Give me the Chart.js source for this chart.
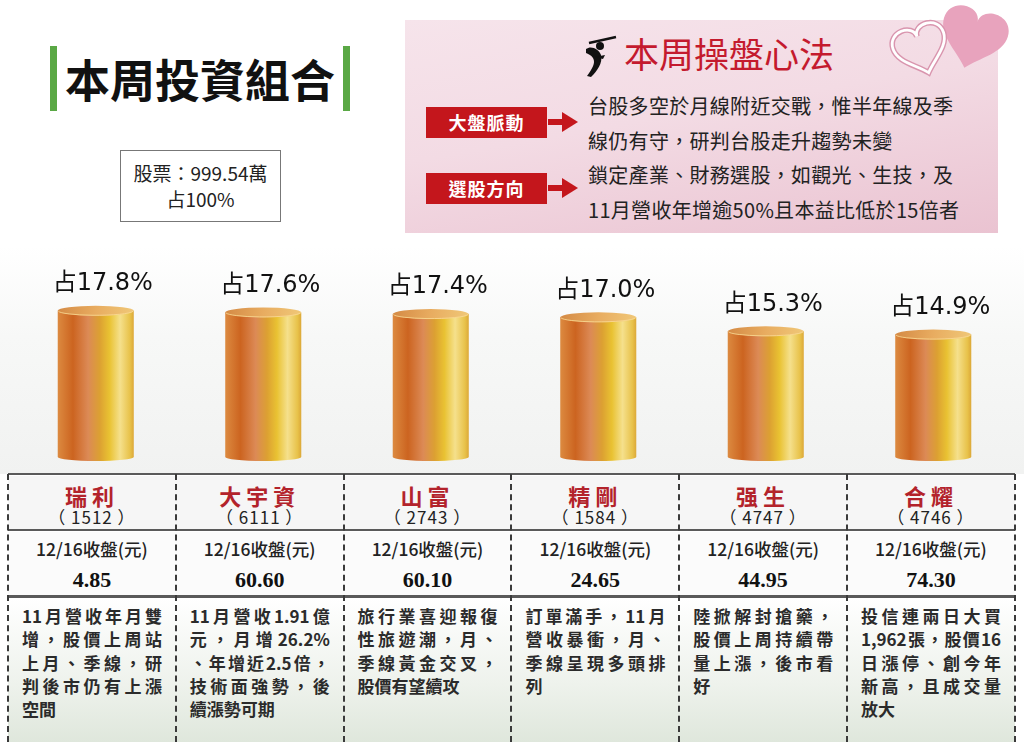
<!DOCTYPE html>
<html>
<head>
<meta charset="utf-8">
<script src="https://cdn.jsdelivr.net/npm/chart.js@4.4.1/dist/chart.umd.min.js"></script>
<style>
body{margin:0;width:1024px;height:748px;background:#fff;position:relative;overflow:hidden;font-family:"Noto Sans CJK TC","Noto Sans",sans-serif;color:#1a1a1a;}
.abs{position:absolute;}
#title{left:65px;top:52px;font-size:45px;font-weight:bold;line-height:54px;color:#111;letter-spacing:0;}
.gbar{width:7px;height:65px;top:46px;background:#5aa845;}
#total{left:120px;top:150px;width:159px;border:1px solid #777;text-align:center;font-size:19px;line-height:26px;padding-top:9px;box-sizing:content-box;height:61px;color:#222;}
#panel{left:405px;top:20px;width:593px;height:213px;background:linear-gradient(170deg,#f6e4eb 0%,#f3dbe4 45%,#eac3d1 100%);}
#mtitle{left:624px;top:31px;font-size:35px;line-height:44px;color:#c41a2e;}
.rbox{left:426px;width:121px;height:31px;background:#c4161c;color:#fff;font-weight:bold;font-size:18px;line-height:31px;text-align:center;letter-spacing:1px;}
.arrow{left:548px;width:30px;height:20px;}
#mtext{left:588px;top:89px;font-size:20px;line-height:34.5px;color:#222;white-space:nowrap;letter-spacing:0.3px;}
#chartbg{left:0;top:246px;width:1024px;height:228px;background:linear-gradient(180deg,#ffffff 0%,#f7f8f7 40%,#f1f2f1 100%);}
#c{left:12px;top:250px;}
.hline{left:8px;width:1007px;height:2px;background:#5a5a5a;}
.vline{top:474px;height:268px;width:0;border-left:2px dashed #3a3a3a;}
.row1{top:476px;height:54px;background:#f6f6f6;}
.row2{top:532px;height:64px;background:#fbfbfb;}
.row3{top:598px;height:144px;background:linear-gradient(180deg,#ffffff 0%,#eef2ec 60%,#dfe7dc 100%);}
.nm{position:absolute;left:0;right:0;top:5px;text-align:center;font-size:22px;font-weight:bold;color:#b3232b;letter-spacing:5px;line-height:28px;}
.cd{position:absolute;left:0;right:0;top:31px;text-align:center;font-size:17px;line-height:20px;color:#222;letter-spacing:1px;}
.lb{position:absolute;left:0;right:0;top:6px;text-align:center;font-size:17.5px;line-height:22px;color:#222;font-weight:500;}
.pr{position:absolute;left:0;right:0;top:35px;text-align:center;font-size:22px;font-weight:bold;font-family:"Liberation Serif","DejaVu Serif",serif;line-height:26px;color:#111;}
.ds{position:absolute;left:14px;width:140px;top:6px;font-size:17px;line-height:23.3px;font-weight:bold;color:#2b2b2b;}
.ds div{white-space:nowrap;}
.ds .j{text-align:justify;text-align-last:justify;}
</style>
</head>
<body>
<div class="abs gbar" style="left:50px"></div>
<div id="title" class="abs">本周投資組合</div>
<div class="abs gbar" style="left:343px"></div>
<div id="total" class="abs">股票：999.54萬<br>占100%</div>

<div id="panel" class="abs"></div>
<svg class="abs" style="left:880px;top:0" width="130" height="82" viewBox="0 0 130 82">
  <path transform="translate(94,34) rotate(16) scale(35)" d="M0,-0.35 C0,-0.85 -0.95,-0.85 -0.95,-0.2 C-0.95,0.3 -0.35,0.6 0,1 C0.35,0.6 0.95,0.3 0.95,-0.2 C0.95,-0.85 0,-0.85 0,-0.35 Z" fill="#e8a3bd"/>
  <path transform="translate(40,46) rotate(-18) scale(28)" d="M0,-0.35 C0,-0.85 -0.95,-0.85 -0.95,-0.2 C-0.95,0.3 -0.35,0.6 0,1 C0.35,0.6 0.95,0.3 0.95,-0.2 C0.95,-0.85 0,-0.85 0,-0.35 Z" fill="none" stroke="#d995ae" stroke-width="0.2"/>
  <path transform="translate(40,46) rotate(-18) scale(28)" d="M0,-0.35 C0,-0.85 -0.95,-0.85 -0.95,-0.2 C-0.95,0.3 -0.35,0.6 0,1 C0.35,0.6 0.95,0.3 0.95,-0.2 C0.95,-0.85 0,-0.85 0,-0.35 Z" fill="none" stroke="#ffffff" stroke-width="0.1"/>
</svg>
<svg class="abs" style="left:583px;top:33px" width="36" height="46" viewBox="0 0 36 46">
  <path d="M6,10 L33,4" stroke="#111" stroke-width="2.5" fill="none"/>
  <circle cx="17" cy="13" r="4" fill="#111"/>
  <path d="M3,16 C8,12 16,16 18,22 C20,30 14,38 8,44 L4,43 C9,36 13,30 10,25 C8,22 5,21 3,20 Z" fill="#111"/>
  <path d="M12,24 L22,22 L20,26 Z" fill="#111"/>
</svg>
<div id="mtitle" class="abs">本周操盤心法</div>
<div class="abs rbox" style="top:107px">大盤脈動</div>
<svg class="abs arrow" style="top:112px" viewBox="0 0 30 20"><rect x="0" y="7" width="17" height="6" fill="#c4161c"/><path d="M14,0 L30,10 L14,20 Z" fill="#c4161c"/></svg>
<div class="abs rbox" style="top:173px">選股方向</div>
<svg class="abs arrow" style="top:178px" viewBox="0 0 30 20"><rect x="0" y="7" width="17" height="6" fill="#c4161c"/><path d="M14,0 L30,10 L14,20 Z" fill="#c4161c"/></svg>
<div id="mtext" class="abs">台股多空於月線附近交戰，惟半年線及季<br>線仍有守，研判台股走升趨勢未變<br>鎖定產業、財務選股，如觀光、生技，及<br>11月營收年增逾50%且本益比低於15倍者</div>

<div id="chartbg" class="abs"></div>
<canvas id="c" class="abs" width="1005" height="212"></canvas>
<div id="table"></div>

<script>
// 本周投資組合 — 持股比重 (%)
const stocks = ['瑞利', '大宇資', '山富', '精剛', '强生', '合耀'];
const codes = ['1512', '6111', '2743', '1584', '4747', '4746'];
const weights = [17.8, 17.6, 17.4, 17.0, 15.3, 14.9];
const closes = ['4.85', '60.60', '60.10', '24.65', '44.95', '74.30'];
const notes = [
    ['11月營收年月雙', '增，股價上周站', '上月、季線，研', '判後市仍有上漲', '空間'],
    ['11月營收1.91億', '元，月增26.2%', '、年增近2.5倍，', '技術面強勢，後', '續漲勢可期'],
    ['旅行業喜迎報復', '性旅遊潮，月、', '季線黃金交叉，', '股價有望續攻'],
    ['訂單滿手，11月', '營收暴衝，月、', '季線呈現多頭排', '列'],
    ['陸掀解封搶藥，', '股價上周持續帶', '量上漲，後市看', '好'],
    ['投信連兩日大買', '1,962張，股價16', '日漲停、創今年', '新高，且成交量', '放大'],
];
const closeLabel = '12/16收盤(元)';

// table under the chart
const table = document.getElementById('table');
const colLeft = 8, colW = 167.8;
let html = '';
stocks.forEach((name, i) => {
    const l = colLeft + i * colW;
    const st = 'left:' + l + 'px;width:' + colW + 'px;';
    html += '<div class="abs row1" style="' + st + '"><div class="nm">' + name + '</div><div class="cd">（ ' + codes[i] + ' ）</div></div>';
    html += '<div class="abs row2" style="' + st + '"><div class="lb">' + closeLabel + '</div><div class="pr">' + closes[i] + '</div></div>';
    const lines = notes[i].map((t, k) =>
        '<div class="' + (k < notes[i].length - 1 && t.length >= 7 ? 'j' : '') + '">' + t + '</div>').join('');
    html += '<div class="abs row3" style="' + st + '"><div class="ds">' + lines + '</div></div>';
});
html += '<div class="abs hline" style="top:473px"></div>';
html += '<div class="abs hline" style="top:529px;height:1.5px"></div>';
html += '<div class="abs hline" style="top:595px;height:2.5px"></div>';
for (let i = 0; i <= stocks.length; i++) {
    html += '<div class="abs vline" style="left:' + (colLeft + i * colW - 1) + 'px"></div>';
}
table.innerHTML = html;

// cylinders + labels drawn on the bar elements
const cylinderPlugin = {
    id: 'cylinders',
    afterDatasetsDraw(chart) {
        const ctx = chart.ctx;
        const meta = chart.getDatasetMeta(0);
        meta.data.forEach((bar, i) => {
            const w = bar.width, cx = bar.x;
            const x0 = cx - w / 2, x1 = cx + w / 2;
            const top = bar.y, base = bar.base;
            const g = ctx.createLinearGradient(x0, 0, x1, 0);
            g.addColorStop(0, '#dc8a40');
            g.addColorStop(0.2, '#cc6420');
            g.addColorStop(0.4, '#dc8a56');
            g.addColorStop(0.55, '#dca032');
            g.addColorStop(0.68, '#e9c232');
            g.addColorStop(0.82, '#f5e08c');
            g.addColorStop(0.95, '#e8c24a');
            g.addColorStop(1, '#dca838');
            ctx.save();
            ctx.fillStyle = g;
            ctx.beginPath();
            ctx.moveTo(x0, top);
            ctx.lineTo(x0, base);
            ctx.ellipse(cx, base, w / 2, 4, 0, Math.PI, 0, true);
            ctx.lineTo(x1, top);
            ctx.closePath();
            ctx.fill();
            const tg = ctx.createLinearGradient(x0, top - 5, x1, top + 5);
            tg.addColorStop(0, '#d48a45');
            tg.addColorStop(0.5, '#e8ac60');
            tg.addColorStop(1, '#f0c878');
            ctx.fillStyle = tg;
            ctx.beginPath();
            ctx.ellipse(cx, top, w / 2, 5, 0, 0, Math.PI * 2);
            ctx.fill();
            ctx.strokeStyle = 'rgba(250,220,150,0.8)';
            ctx.lineWidth = 1;
            ctx.beginPath();
            ctx.ellipse(cx, top, w / 2 - 0.5, 4.5, 0, 0.1, Math.PI - 0.1);
            ctx.stroke();
            ctx.fillStyle = '#111';
            ctx.font = '24px "DejaVu Sans", "Noto Sans CJK TC", sans-serif';
            ctx.textAlign = 'center';
            ctx.textBaseline = 'middle';
            ctx.fillText('占' + weights[i].toFixed(1) + '%', cx + 7, top - 27);
            ctx.restore();
        });
    }
};

new Chart(document.getElementById('c').getContext('2d'), {
    type: 'bar',
    data: {
        labels: stocks,
        datasets: [{
            data: weights,
            backgroundColor: 'rgba(0,0,0,0)',
            borderWidth: 0,
            barPercentage: 0.454,
            categoryPercentage: 1,
        }],
    },
    options: {
        responsive: false,
        animation: false,
        layout: { padding: { top: 0, bottom: 5, left: 0, right: 0 } },
        plugins: { legend: { display: false }, tooltip: { enabled: false } },
        scales: {
            x: { display: false },
            y: { display: false, min: 0, max: 25.2 },
        },
    },
    plugins: [cylinderPlugin],
});
</script>
</body>
</html>
